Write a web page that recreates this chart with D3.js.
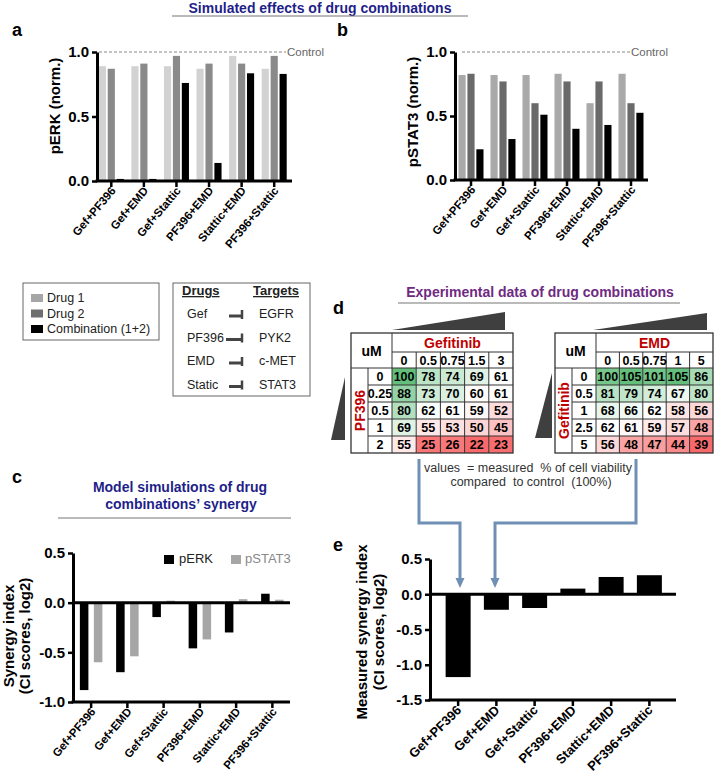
<!DOCTYPE html>
<html><head><meta charset="utf-8">
<script src="https://cdn.jsdelivr.net/npm/d3@7"></script>
<style>
body{margin:0;background:#fff;}
svg{display:block;}
</style></head><body>
<svg id="fig" width="717" height="783"></svg>
<script>
// ---------- data ----------
const categories = ["Gef+PF396","Gef+EMD","Gef+Stattic","PF396+EMD","Stattic+EMD","PF396+Stattic"];
const perkDrug1 = [0.89,0.89,0.89,0.87,0.97,0.87];
const perkDrug2 = [0.87,0.91,0.97,0.91,0.91,0.97];
const perkCombo = [0.016,0.016,0.76,0.14,0.835,0.83];
const pstat3Drug1 = [0.82,0.82,0.82,0.83,0.60,0.83];
const pstat3Drug2 = [0.83,0.77,0.60,0.77,0.77,0.60];
const pstat3Combo = [0.24,0.32,0.51,0.40,0.43,0.525];
const synergyPERK = [-0.88,-0.70,-0.145,-0.46,-0.30,0.09];
const synergyPSTAT3 = [-0.60,-0.54,0.02,-0.37,0.035,0.03];
const measuredSynergy = [-1.175,-0.22,-0.195,0.08,0.245,0.27];
const ticksNorm = [0,0.5,1];
const ticksSim = [0.5,0,-0.5,-1];
const ticksMeas = [0.5,0,-0.5,-1,-1.5];

const gefConcA = ["0","0.5","0.75","1.5","3"];
const pf396Conc = ["0","0.25","0.5","1","2"];
const viabilityGefPF396 = [[100,78,74,69,61],[88,73,70,60,61],[80,62,61,59,52],[69,55,53,50,45],[55,25,26,22,23]];
const emdConc = ["0","0.5","0.75","1","5"];
const gefConcB = ["0","0.5","1","2.5","5"];
const viabilityGefEMD = [[100,105,101,105,86],[81,79,74,67,80],[68,66,62,58,56],[62,61,59,57,48],[56,48,47,44,39]];

const drugs = ["Gef","PF396","EMD","Static"];
const targets = ["EGFR","PYK2","c-MET","STAT3"];

// ---------- drawing ----------
const FONT = '"Liberation Sans", Arial, Helvetica, sans-serif';
const NARROW = '"Liberation Sans Narrow", "Arial Narrow", "Liberation Sans", Arial, sans-serif';
const svg = d3.select("#fig").attr("font-family", FONT);
svg.append("rect").attr("width",717).attr("height",783).attr("fill","#fff");

function txt(x,y,s,o={}){
  const t = svg.append("text").attr("x",x).attr("y",y).text(s)
    .attr("font-size",o.size||13).attr("font-weight",o.bold?"bold":"normal")
    .attr("fill",o.color||"#000").attr("text-anchor",o.anchor||"start");
  if(o.family) t.attr("font-family",o.family);
  if(o.rotate!=null) t.attr("transform",`rotate(${o.rotate},${x},${y})`);
  if(o.pre) t.style("white-space","pre");
  return t;
}
function hline(x1,x2,y,color,w){svg.append("line").attr("x1",x1).attr("x2",x2).attr("y1",y).attr("y2",y).attr("stroke",color).attr("stroke-width",w);}

function barPanel(cfg){
  const g = svg.append("g");
  const x = d3.scaleBand().domain(categories).range(cfg.xRange);
  const y = d3.scaleLinear().domain(cfg.yDomain).range(cfg.yRange);
  const sub = d3.scaleBand().domain(d3.range(cfg.series.length)).range(cfg.subRange).paddingInner(cfg.subPad);
  cfg.series.forEach((s,i)=>{
    g.append("g").selectAll("rect").data(s.values).join("rect")
      .attr("x",(d,j)=>x(categories[j])+x.bandwidth()/2+sub(i))
      .attr("width",sub.bandwidth())
      .attr("y",d=>y(Math.max(0,d)))
      .attr("height",d=>Math.abs(y(d)-y(0)))
      .attr("fill",s.color);
  });
  const ya = g.append("g").attr("transform",`translate(${cfg.axisX},0)`)
    .call(d3.axisLeft(y).tickValues(cfg.ticks).tickFormat(d=>d.toFixed(1)).tickSize(5).tickSizeOuter(0));
  ya.attr("font-family",FONT).attr("font-size",15).attr("font-weight","bold");
  ya.select(".domain").attr("stroke-width",3);
  ya.selectAll(".tick line").attr("stroke-width",2.5);
  ya.selectAll(".tick text").attr("x",-8).attr("fill","#000");
  if(cfg.zeroLine) hline(cfg.axisX,cfg.xEnd,y(0),"#000",3);
  const by = y(cfg.yDomain[0]);
  g.append("line").attr("x1",cfg.axisX-1.5).attr("x2",cfg.xEnd).attr("y1",by).attr("y2",by).attr("stroke","#000").attr("stroke-width",3);
  const xa = g.append("g").attr("transform",`translate(0,${by})`)
    .call(d3.axisBottom(x).tickSize(6).tickSizeOuter(0));
  xa.attr("font-family",FONT).attr("font-size",cfg.labelSize).attr("font-weight","bold");
  xa.select(".domain").remove();
  xa.selectAll(".tick line").attr("stroke-width",2.5);
  xa.selectAll(".tick text").attr("y",0).attr("dy",0).attr("fill","#000")
    .attr("text-anchor","end").attr("transform",`translate(${cfg.lab[0]},${cfg.lab[1]}) rotate(${cfg.angle})`);
  return {x,y,g};
}

// ---- titles ----
txt(320,13,"Simulated effects of drug combinations",{size:14,bold:true,color:"#1f1f8a",anchor:"middle"});
hline(172,468,16,"#777",1.2);
txt(12,36,"a",{size:18,bold:true});
txt(337,36,"b",{size:18,bold:true});

// ---- panel a ----
const pa = barPanel({xRange:[95,290.5],yDomain:[0,1],yRange:[181,52],axisX:97,xEnd:292,ticks:ticksNorm,
  subRange:[-12.5,12.5],subPad:0.2,labelSize:11.5,lab:[5,10],angle:-50,
  series:[{values:perkDrug1,color:"#d2d2d2"},{values:perkDrug2,color:"#8a8a8a"},{values:perkCombo,color:"#000"}]});
svg.append("line").attr("x1",99).attr("x2",286).attr("y1",pa.y(1)).attr("y2",pa.y(1)).attr("stroke","#888").attr("stroke-dasharray","3,2").attr("stroke-width",1);
txt(287,56,"Control",{size:11.5,color:"#666"});
txt(60,106,"pERK (norm.)",{size:15,bold:true,anchor:"middle",rotate:-90});

// ---- panel b ----
const pb = barPanel({xRange:[455,647],yDomain:[0,1],yRange:[180,52],axisX:455,xEnd:648,ticks:ticksNorm,
  subRange:[-12.5,12.5],subPad:0.2,labelSize:11.5,lab:[5,10],angle:-50,
  series:[{values:pstat3Drug1,color:"#a9a9a9"},{values:pstat3Drug2,color:"#6a6a6a"},{values:pstat3Combo,color:"#000"}]});
svg.append("line").attr("x1",462).attr("x2",630).attr("y1",pb.y(1)).attr("y2",pb.y(1)).attr("stroke","#888").attr("stroke-dasharray","3,2").attr("stroke-width",1);
txt(631,56,"Control",{size:11.5,color:"#666"});
txt(418,112,"pSTAT3 (norm.)",{size:15,bold:true,anchor:"middle",rotate:-90});

// ---- legend 1 ----
svg.append("rect").attr("x",23).attr("y",283).attr("width",136).attr("height",57).attr("fill","none").attr("stroke","#666").attr("stroke-width",1);
const leg1 = [["Drug 1","#a6a6a6"],["Drug 2","#6e6e6e"],["Combination (1+2)","#000"]];
leg1.forEach((d,i)=>{
  const yb = 302+i*15.5;
  svg.append("rect").attr("x",31).attr("y",yb-8).attr("width",12).attr("height",8).attr("fill",d[1]);
  txt(47,yb,d[0],{size:12.5,color:"#222"});
});

// ---- legend 2 ----
svg.append("rect").attr("x",173).attr("y",283).attr("width",137).attr("height",113).attr("fill","none").attr("stroke","#666").attr("stroke-width",1);
txt(182,295,"Drugs",{size:13,bold:true,color:"#222"}).attr("text-decoration","underline");
txt(253,295,"Targets",{size:13,bold:true,color:"#222"}).attr("text-decoration","underline");
drugs.forEach((d,i)=>{
  const yb = 318+i*23.5;
  txt(187,yb,d,{size:12.5,color:"#222"});
  txt(259,yb,targets[i],{size:12.5,color:"#222"});
  const x1 = i===1?226:229;
  svg.append("line").attr("x1",x1).attr("x2",242).attr("y1",yb-2).attr("y2",yb-2).attr("stroke","#444").attr("stroke-width",3);
  svg.append("line").attr("x1",242).attr("x2",242).attr("y1",yb-8).attr("y2",yb+1).attr("stroke","#444").attr("stroke-width",2.5);
});

// ---- panel d ----
txt(333,314,"d",{size:18,bold:true});
txt(540,297,"Experimental data of drug combinations",{size:14,bold:true,color:"#6f2a82",anchor:"middle"});
hline(398,680,303,"#777",1.2);

function heatTable(cfg){
  const g = svg.append("g");
  const cols = d3.scaleBand().domain(d3.range(5)).range(cfg.colRange);
  const rows = d3.scaleBand().domain(d3.range(5)).range([368,453]);
  const flat = cfg.values.flat();
  const color = d3.scaleLinear().domain([d3.min(flat),d3.median(flat),d3.max(flat)]).range(["#F8696B","#FFFFFF","#63BE7B"]);
  cfg.values.forEach((r,i)=>r.forEach((v,j)=>{
    g.append("rect").attr("x",cols(j)).attr("y",rows(i)).attr("width",cols.bandwidth()).attr("height",rows.bandwidth()).attr("fill",color(v));
    g.append("text").attr("x",cols(j)+cols.bandwidth()/2).attr("y",rows(i)+rows.bandwidth()/2+4.5)
      .attr("text-anchor","middle").attr("font-family",NARROW).attr("font-weight","bold").attr("font-size",12.5).text(v);
  }));
  const L = cfg.left, M = cfg.mid, C0 = cfg.colRange[0], R = cfg.colRange[1];
  const st = "#333";
  const ln = (x1,y1,x2,y2)=>g.append("line").attr("x1",x1).attr("y1",y1).attr("x2",x2).attr("y2",y2).attr("stroke",st).attr("stroke-width",1);
  ln(C0,352,R,352);
  ln(L,368,R,368);
  rows.domain().slice(1).forEach(i=>ln(M,rows(i),R,rows(i)));
  ln(M,368,M,453);
  ln(C0,333,C0,453);
  cols.domain().slice(1).forEach(j=>ln(cols(j),352,cols(j),453));
  g.append("rect").attr("x",L).attr("y",333).attr("width",R-L).attr("height",120).attr("fill","none").attr("stroke",st).attr("stroke-width",1.3);
  g.append("text").attr("x",(L+C0)/2).attr("y",356).attr("text-anchor","middle").attr("font-family",NARROW).attr("font-weight","bold").attr("font-size",14).text("uM");
  g.append("text").attr("x",(C0+R)/2).attr("y",347.5).attr("text-anchor","middle").attr("font-weight","bold").attr("font-size",14).attr("fill","#c00000").text(cfg.colTitle);
  cfg.colLabels.forEach((s,j)=>g.append("text").attr("x",cols(j)+cols.bandwidth()/2).attr("y",365).attr("text-anchor","middle").attr("font-family",NARROW).attr("font-weight","bold").attr("font-size",12.5).text(s));
  cfg.rowLabels.forEach((s,i)=>g.append("text").attr("x",(M+C0)/2).attr("y",rows(i)+rows.bandwidth()/2+4.5).attr("text-anchor","middle").attr("font-family",NARROW).attr("font-weight","bold").attr("font-size",12.5).text(s));
  const cx=(L+M)/2+5, cy=410.5;
  g.append("text").attr("x",cx).attr("y",cy).attr("text-anchor","middle").attr("font-weight","bold").attr("font-size",14).attr("fill","#c00000")
    .attr("transform",`rotate(-90,${cx},${cy})`).text(cfg.rowTitle);
  g.append("polygon").attr("points",cfg.topWedge.map(p=>p.join(",")).join(" ")).attr("fill","#3f3f3f");
  g.append("polygon").attr("points",cfg.sideWedge.map(p=>p.join(",")).join(" ")).attr("fill","#3f3f3f");
}
heatTable({left:351,mid:368,colRange:[392,513],values:viabilityGefPF396,colLabels:gefConcA,rowLabels:pf396Conc,
  colTitle:"Gefitinib",rowTitle:"PF396",topWedge:[[392,330],[505,312],[505,330]],sideWedge:[[345,377],[345,440],[331,440]]});
heatTable({left:555,mid:572,colRange:[596,713],values:viabilityGefEMD,colLabels:emdConc,rowLabels:gefConcB,
  colTitle:"EMD",rowTitle:"Gefitinib",topWedge:[[593,330],[707,313],[707,330]],sideWedge:[[552,373],[552,438],[535,438]]});

txt(528,472,"values  = measured  % of cell viability",{size:12.5,color:"#333",anchor:"middle",pre:true});
txt(531,486,"compared  to control  (100%)",{size:12.5,color:"#333",anchor:"middle",pre:true});

const AC = "#6f8fb4";
svg.append("path").attr("d","M419,459 V523 H460 V580").attr("fill","none").attr("stroke",AC).attr("stroke-width",3);
svg.append("path").attr("d","M636,459 V523 H495 V580").attr("fill","none").attr("stroke",AC).attr("stroke-width",3);
[460,495].forEach(x=>svg.append("polygon").attr("points",`${x-4.5},578 ${x+4.5},578 ${x},588`).attr("fill",AC));

// ---- panel c ----
txt(12,483,"c",{size:18,bold:true});
txt(180,492,"Model simulations of drug",{size:14,bold:true,color:"#1f1f8a",anchor:"middle"});
txt(181,509,"combinations\u2019 synergy",{size:14,bold:true,color:"#1f1f8a",anchor:"middle"});
hline(58,291,518,"#777",1.2);
barPanel({xRange:[73,290.5],yDomain:[-1,0.5],yRange:[702,553],axisX:73,xEnd:290,ticks:ticksSim,zeroLine:true,
  subRange:[-11.25,11.25],subPad:0.39,labelSize:11.5,lab:[5,10],angle:-50,
  series:[{values:synergyPERK,color:"#000"},{values:synergyPSTAT3,color:"#a6a6a6"}]});
svg.append("rect").attr("x",164).attr("y",555).attr("width",10).attr("height",9).attr("fill","#000");
txt(179,563,"pERK",{size:13,color:"#222"});
svg.append("rect").attr("x",231).attr("y",555).attr("width",10).attr("height",9).attr("fill","#a6a6a6");
txt(245,563,"pSTAT3",{size:13,color:"#888"});
txt(14,636,"Synergy index",{size:15,bold:true,anchor:"middle",rotate:-90});
txt(30,636,"(CI scores, log2)",{size:15,bold:true,anchor:"middle",rotate:-90});

// ---- panel e ----
txt(333,551,"e",{size:18,bold:true});
barPanel({xRange:[439,668.5],yDomain:[-1.5,0.5],yRange:[700,559],axisX:430,xEnd:676,ticks:ticksMeas,zeroLine:true,
  subRange:[-12.5,12.5],subPad:0,labelSize:13,lab:[4,11],angle:-45,
  series:[{values:measuredSynergy,color:"#000"}]});
txt(367,632,"Measured synergy index",{size:15,bold:true,anchor:"middle",rotate:-90});
txt(384,632,"(CI scores, log2)",{size:15,bold:true,anchor:"middle",rotate:-90});
</script>
</body></html>
